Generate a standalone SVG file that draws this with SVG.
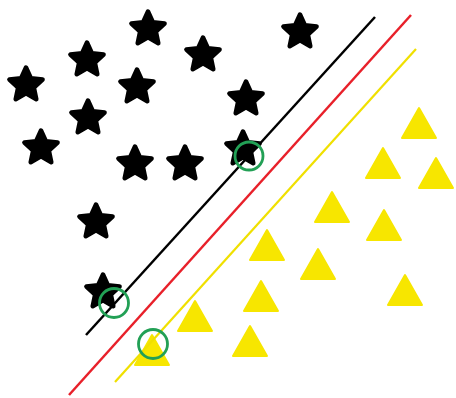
<svg xmlns="http://www.w3.org/2000/svg" width="456" height="398" viewBox="0 0 456 398">
<style>
.star{fill:#000;stroke:#000;stroke-width:4.5;stroke-linejoin:round}
.tri{fill:#f7e600;stroke:#f7e600;stroke-width:2;stroke-linejoin:round}
.sv{fill:none;stroke:#22a055;stroke-width:2.8}
</style>
<defs>
<polygon id="s" points="0,-17.5 4.9,-6.8 16.6,-5.4 7.9,2.6 10.3,14.2 0,8.4 -10.3,14.2 -7.9,2.6 -16.6,-5.4 -4.9,-6.8"/>
<polygon id="t" points="0,-15 17,15 -17,15"/>
</defs>
<rect width="456" height="398" fill="#fff"/>
<g id="stars">
<use href="#s" class="star" x="148" y="29"/>
<use href="#s" class="star" x="203" y="55"/>
<use href="#s" class="star" x="87" y="60"/>
<use href="#s" class="star" x="26" y="85"/>
<use href="#s" class="star" x="137" y="87"/>
<use href="#s" class="star" x="88" y="118"/>
<use href="#s" class="star" x="41" y="148"/>
<use href="#s" class="star" x="135" y="164"/>
<use href="#s" class="star" x="185" y="164"/>
<use href="#s" class="star" x="300" y="32"/>
<use href="#s" class="star" x="246" y="99"/>
<use href="#s" class="star" x="243" y="149"/>
<use href="#s" class="star" x="96" y="222"/>
<use href="#s" class="star" x="103" y="292"/>
</g>
<g id="triangles">
<use href="#t" class="tri" x="419" y="123"/>
<use href="#t" class="tri" x="383" y="163"/>
<use href="#t" class="tri" x="436" y="173"/>
<use href="#t" class="tri" x="332" y="207"/>
<use href="#t" class="tri" x="384" y="225"/>
<use href="#t" class="tri" x="267" y="245"/>
<use href="#t" class="tri" x="318" y="264"/>
<use href="#t" class="tri" x="261" y="296"/>
<use href="#t" class="tri" x="405" y="290"/>
<use href="#t" class="tri" x="250" y="341"/>
<use href="#t" class="tri" x="195" y="316"/>
<use href="#t" class="tri" x="152" y="350"/>
</g>
<g id="connectors">
<line x1="375" y1="17" x2="86" y2="335" stroke="#000" stroke-width="2.5"/>
<line x1="411" y1="15" x2="69" y2="395" stroke="#e8202a" stroke-width="2.5"/>
<line x1="416" y1="49" x2="115" y2="382" stroke="#f0e000" stroke-width="2.2"/>
</g>
<g id="support">
<circle class="sv" cx="249" cy="156" r="14"/>
<circle class="sv" cx="114" cy="303" r="14.5"/>
<circle class="sv" cx="153" cy="344" r="14.5"/>
</g>
</svg>
